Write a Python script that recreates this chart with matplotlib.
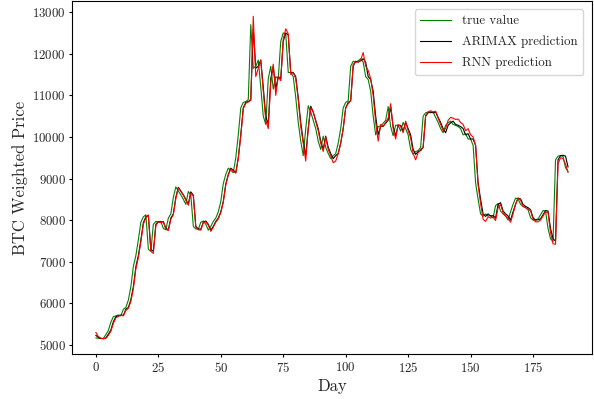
import matplotlib
matplotlib.use("Agg")
import matplotlib.pyplot as plt
import numpy as np

true_value = [
    5170, 5160, 5150, 5160, 5250, 5350, 5550, 5680, 5700, 5720,
    5700, 5860, 5900, 6080, 6400, 6890, 7150, 7530, 7950, 8080,
    8130, 7300, 7250, 7900, 7970, 7950, 7970, 7800, 7770, 8050,
    8150, 8550, 8800, 8700, 8610, 8500, 8380, 8690, 8600, 7850,
    7790, 7780, 7950, 7980, 7900, 7760, 7850, 7970, 8050, 8200,
    8450, 8880, 9100, 9250, 9200, 9140, 9500, 10050, 10700, 10830,
    10850, 10900, 12700, 11650, 11700, 11850, 11200, 10500, 10300, 11400,
    11700, 11150, 11450, 11400, 12300, 12500, 12480, 11550, 11550, 11450,
    10950, 10350, 9900, 9550, 10200, 10750, 10600, 10400, 10200, 9900,
    9700, 10020, 9750, 9600, 9480, 9550, 9600, 9850, 10200, 10700,
    10830, 10870, 11700, 11820, 11800, 11830, 11880, 11800, 11450, 11380,
    11100, 10500, 10050, 10250, 10260, 10330, 10400, 10730, 10250, 10030,
    10280, 10280, 10140, 10350, 10200, 10050, 9700, 9580, 9650, 9670,
    9750, 10500, 10580, 10600, 10580, 10600, 10470, 10350, 10200, 10100,
    10280, 10340, 10380, 10300, 10280, 10250, 10200, 10050, 10080, 9950,
    9950, 9800, 8900, 8500, 8150, 8090, 8150, 8100, 8110, 8050,
    8350, 8400, 8220, 8150, 8100, 8000, 8200, 8380, 8530, 8510,
    8380, 8330, 8300, 8250, 8060, 8000, 8010, 8030, 8130, 8230,
    8220, 7800, 7550, 7490, 9450, 9540, 9550, 9530, 9260, 9170,
]

arimax_pred = [
    5230, 5180, 5160, 5150, 5170, 5260, 5360, 5560, 5680, 5700,
    5720, 5710, 5860, 5900, 6090, 6400, 6880, 7150, 7520, 7940,
    8080, 8120, 7300, 7250, 7900, 7970, 7950, 7970, 7800, 7770,
    8050, 8150, 8550, 8790, 8700, 8610, 8500, 8380, 8680, 8600,
    7850, 7790, 7780, 7950, 7980, 7900, 7760, 7850, 7970, 8050,
    8200, 8450, 8870, 9100, 9250, 9200, 9140, 9500, 10050, 10700,
    10830, 10850, 10900, 12600, 11650, 11700, 11850, 11200, 10500, 10300,
    11400, 11700, 11150, 11450, 11400, 12300, 12500, 12450, 11550, 11550,
    11450, 10950, 10350, 9900, 9550, 10200, 10740, 10600, 10400, 10200,
    9900, 9700, 10020, 9750, 9600, 9480, 9550, 9600, 9850, 10200,
    10700, 10830, 10870, 11700, 11820, 11800, 11830, 11880, 11800, 11450,
    11380, 11100, 10500, 10050, 10250, 10260, 10330, 10400, 10720, 10250,
    10030, 10280, 10280, 10140, 10350, 10200, 10050, 9700, 9580, 9650,
    9670, 9750, 10500, 10580, 10600, 10580, 10600, 10470, 10350, 10200,
    10100, 10280, 10340, 10380, 10300, 10280, 10250, 10200, 10050, 10080,
    9950, 9950, 9800, 8900, 8500, 8150, 8090, 8150, 8100, 8110,
    8050, 8380, 8420, 8220, 8150, 8100, 8000, 8200, 8380, 8530,
    8510, 8380, 8330, 8300, 8250, 8060, 8000, 8010, 8030, 8130,
    8230, 8220, 7800, 7550, 7500, 9450, 9550, 9560, 9540, 9280,
]

rnn_pred = [
    5300, 5200, 5160, 5150, 5160, 5230, 5330, 5520, 5650, 5690,
    5710, 5700, 5830, 5880, 6050, 6350, 6830, 7100, 7480, 7900,
    8060, 8120, 7250, 7200, 7870, 7960, 7940, 7960, 7780, 7750,
    8020, 8130, 8520, 8780, 8690, 8600, 8480, 8360, 8650, 8580,
    7830, 7770, 7760, 7940, 7960, 7880, 7730, 7830, 7950, 8030,
    8180, 8430, 8850, 9080, 9230, 9180, 9130, 9480, 10020, 10680,
    10810, 10840, 10880, 12900, 11450, 11650, 11850, 11100, 10400, 10200,
    11300, 11750, 11000, 11450, 11350, 12350, 12600, 12480, 11500, 11550,
    11400, 10900, 10250, 9850, 9420, 10200, 10700, 10600, 10380, 10150,
    9850, 9650, 10000, 9700, 9550, 9380, 9420, 9600, 9850, 10200,
    10700, 10800, 10870, 11750, 11800, 11800, 11850, 12030, 11700, 11600,
    11400, 11000, 10350, 9900, 10300, 10250, 10350, 10450, 10800, 10200,
    9950, 10300, 10250, 10100, 10380, 10150, 9980, 9600, 9450, 9620,
    9700, 9750, 10520, 10600, 10630, 10600, 10620, 10450, 10300, 10150,
    10200, 10400, 10470, 10450, 10420, 10430, 10350, 10300, 10150, 10200,
    10050, 10000, 9800, 8850, 8400, 8020, 7970, 8080, 8050, 8080,
    7990, 8300, 8380, 8180, 8100, 8050, 7950, 8150, 8380, 8530,
    8480, 8330, 8300, 8260, 8230, 8020, 7960, 7960, 8000, 8100,
    8200, 8180, 7700, 7430, 7420, 9350, 9500, 9480, 9350, 9150,
]

days = np.arange(len(true_value))
x_ticks = [0, 25, 50, 75, 100, 125, 150, 175]
y_ticks = [5000, 6000, 7000, 8000, 9000, 10000, 11000, 12000, 13000]

plt.rcParams['font.family'] = 'serif'
plt.rcParams['font.serif'] = ['cmr10', 'DejaVu Serif']
plt.rcParams['mathtext.fontset'] = 'cm'
plt.rcParams['axes.unicode_minus'] = False
plt.rcParams['axes.formatter.use_mathtext'] = True

text_color = '#262626'

fig = plt.figure(figsize=(5.94, 3.99), dpi=100)
ax = fig.add_axes([0.1217, 0.112, 0.8743, 0.8855])

ax.plot(days, true_value, color='green', lw=0.8, label='true value')
ax.plot(days, arimax_pred, color='black', lw=0.8, label='ARIMAX prediction')
ax.plot(days, rnn_pred, color='red', lw=0.8, label='RNN prediction')

ax.set_ylim(4775, 13268)
ax.set_xticks(x_ticks)
ax.set_yticks(y_ticks)
ax.tick_params(labelsize=9.3, length=2.5, pad=2, labelcolor=text_color)
ax.set_xlabel('Day', fontsize=12, color=text_color, labelpad=3)
ax.set_ylabel('BTC Weighted Price', fontsize=12, color=text_color, labelpad=3)
leg = ax.legend(loc='upper right', fontsize=9.3, handlelength=2.4,
                labelspacing=0.65, borderaxespad=0.65, borderpad=0.45)
for t in leg.get_texts():
    t.set_color(text_color)

fig.savefig('out.png', dpi=100)
